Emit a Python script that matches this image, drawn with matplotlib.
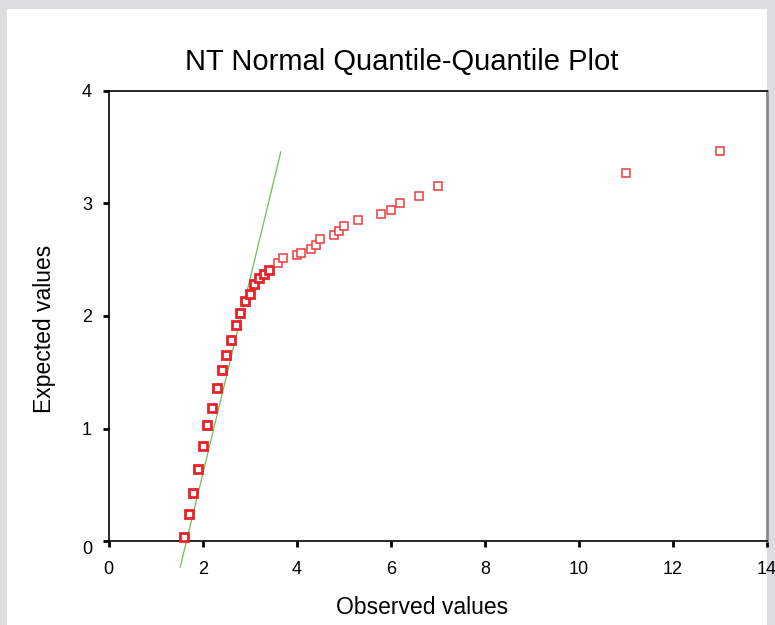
import matplotlib.pyplot as plt
from matplotlib.patches import Rectangle

# observed values and their expected normal values
observed = [1.6, 1.7, 1.8, 1.9, 2.0, 2.1, 2.2, 2.3, 2.4, 2.5, 2.6, 2.7, 2.8, 2.9,
            3.0, 3.1, 3.2, 3.3, 3.4, 3.6, 3.7, 4.0, 4.1, 4.3, 4.4, 4.5, 4.8, 4.9,
            5.0, 5.3, 5.8, 6.0, 6.2, 6.6, 7.0, 11.0, 13.0]
expected = [0.04, 0.24, 0.43, 0.64, 0.85, 1.03, 1.18, 1.36, 1.52, 1.65, 1.79, 1.92,
            2.03, 2.13, 2.19, 2.28, 2.34, 2.37, 2.41, 2.47, 2.51, 2.54, 2.56, 2.59,
            2.63, 2.68, 2.72, 2.75, 2.80, 2.85, 2.90, 2.94, 3.00, 3.06, 3.15, 3.27, 3.46]

# reference line end points
line_x = [1.52, 3.66]
line_y = [-0.23, 3.455]

xticks = [0, 2, 4, 6, 8, 10, 12, 14]
yticks = [0, 1, 2, 3, 4]

plt.rcParams['font.family'] = ['Liberation Sans', 'DejaVu Sans']

fig = plt.figure(figsize=(7.75, 6.25), dpi=100)
fig.patch.set_facecolor('#dcdddf')
fig.patches.append(Rectangle((7 / 775, 0), (767 - 7) / 775, (625 - 9) / 625,
                             transform=fig.transFigure, facecolor='white',
                             edgecolor='none', zorder=-5))

ax = fig.add_axes([108.7 / 775, 1 - 541.3 / 625, (767 - 108.7) / 775, (541.3 - 90.5) / 625])
ax.set_zorder(1)
ax.set_facecolor('white')

ax.plot(line_x, line_y, color='#6cc04a', lw=0.9, clip_on=False, zorder=2)

n_bold = 19
ax.plot(observed[:n_bold], expected[:n_bold], 's', ms=5.8, mfc='white', mec='#e82228',
        mew=2.0, clip_on=False, zorder=3)
ax.plot(observed[n_bold:], expected[n_bold:], 's', ms=5.5, mfc='white', mec='#ee3a3f',
        mew=1.1, clip_on=False, zorder=3)

ax.set_xlim(0, 14)
ax.set_ylim(0, 4)
ax.set_xticks(xticks)
ax.set_yticks(yticks)
ax.tick_params(direction='out', length=4, width=2, labelsize=13, colors='black')
ax.tick_params(axis='x', pad=10)
ax.tick_params(axis='y', pad=8)
ax.get_yticklabels()[0].set_va('top')

for side in ['left', 'bottom', 'top']:
    ax.spines[side].set_color('black')
    ax.spines[side].set_linewidth(1.2)
ax.spines['right'].set_color('#8a8a8a')
ax.spines['right'].set_linewidth(2)

fig.text(402 / 775, 1 - 62 / 625, 'NT Normal Quantile-Quantile Plot', ha='center',
         va='center', fontsize=21)
fig.text(422 / 775, 1 - 607 / 625, 'Observed values', ha='center', va='center', fontsize=16.5)
fig.text(45 / 775, 1 - 329 / 625, 'Expected values', ha='center', va='center',
         rotation=90, fontsize=16.5)

fig.savefig('out.png', dpi=100, facecolor=fig.get_facecolor())
